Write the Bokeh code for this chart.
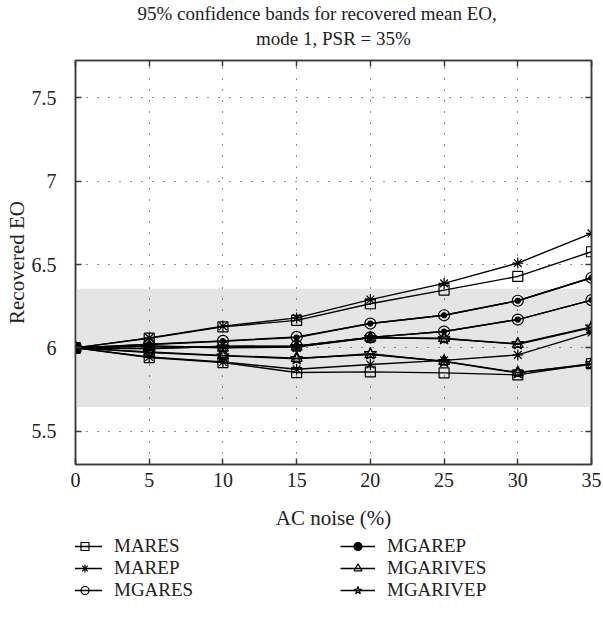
from bokeh.plotting import figure
from bokeh.layouts import column
from bokeh.models import (BoxAnnotation, Legend, LegendItem, LinearAxis,
                          NumeralTickFormatter, CustomJSTickFormatter, Title,
                          Range1d)
from bokeh.embed import file_html
from bokeh.resources import INLINE

# AC noise levels (%)
noise = [0, 5, 10, 15, 20, 25, 30, 35]

# Upper / lower 95% confidence limits of the recovered mean EO
mares_hi = [6.0, 6.058, 6.126, 6.165, 6.265, 6.347, 6.429, 6.577]
mares_lo = [6.0, 5.942, 5.912, 5.852, 5.856, 5.850, 5.838, 5.905]
marep_hi = [6.0, 6.060, 6.130, 6.180, 6.290, 6.387, 6.509, 6.687]
marep_lo = [6.0, 5.945, 5.915, 5.872, 5.900, 5.925, 5.958, 6.092]
mgares_hi = [6.0, 6.022, 6.042, 6.066, 6.146, 6.196, 6.283, 6.421]
mgares_lo = [6.0, 5.995, 6.010, 6.012, 6.063, 6.098, 6.170, 6.287]
mgarep_hi = [6.0, 6.020, 6.040, 6.062, 6.146, 6.196, 6.283, 6.421]
mgarep_lo = [6.0, 5.997, 6.008, 6.010, 6.063, 6.098, 6.170, 6.287]
mgarives_hi = [6.0, 6.010, 6.000, 6.005, 6.060, 6.058, 6.022, 6.122]
mgarives_lo = [6.0, 5.975, 5.955, 5.938, 5.960, 5.920, 5.852, 5.900]
mgarivep_hi = [6.0, 6.012, 6.002, 6.008, 6.062, 6.055, 6.025, 6.125]
mgarivep_lo = [6.0, 5.972, 5.952, 5.935, 5.965, 5.918, 5.850, 5.905]

# Reference band of the true EO
band_lo = 5.645
band_hi = 6.355

x_ticks = [0, 5, 10, 15, 20, 25, 30, 35]
y_ticks = [5.5, 6, 6.5, 7, 7.5]

methods = ["MARES", "MAREP", "MGARES", "MGAREP", "MGARIVES", "MGARIVEP"]
limits = {
    "MARES": (mares_hi, mares_lo),
    "MAREP": (marep_hi, marep_lo),
    "MGARES": (mgares_hi, mgares_lo),
    "MGAREP": (mgarep_hi, mgarep_lo),
    "MGARIVES": (mgarives_hi, mgarives_lo),
    "MGARIVEP": (mgarivep_hi, mgarivep_lo),
}

# marker style per method: (marker, size, filled)
marker_style = {
    "MARES": ("square", 10, False),
    "MAREP": ("asterisk", 11, False),
    "MGARES": ("circle", 11, False),
    "MGAREP": ("circle", 5, True),
    "MGARIVES": ("triangle", 11, False),
    "MGARIVEP": ("star", 13, False),
}

FONT = "Liberation Serif"
INK = "#000000"
FRAME = "#3a3a3a"
TEXT = "#222222"

p = figure(width=603, height=536, x_range=(0, 35), y_range=(5.3, 7.725),
           title=None, output_backend="svg", toolbar_location=None,
           min_border_left=75, min_border_right=12,
           min_border_top=59, min_border_bottom=72)

p.outline_line_color = FRAME
p.outline_line_width = 1.5

band = BoxAnnotation(bottom=band_lo, top=band_hi, fill_color="#e5e5e5",
                     fill_alpha=1.0, line_alpha=0, level="image")
p.add_layout(band)

# dotted grid
for g in (p.xgrid, p.ygrid):
    g.grid_line_color = "#222222"
    g.grid_line_dash = "1 10"
    g.grid_line_width = 1
p.xgrid.ticker = x_ticks
p.ygrid.ticker = y_ticks

def style_axis(ax):
    ax.axis_line_color = FRAME
    ax.axis_line_width = 1.5
    ax.major_tick_line_color = FRAME
    ax.major_tick_line_width = 1.5
    ax.major_tick_in = 6
    ax.major_tick_out = 0
    ax.minor_tick_line_alpha = 0
    ax.major_label_text_font = FONT
    ax.major_label_text_color = TEXT
    ax.major_label_text_font_size = "20px"

p.xaxis.ticker = x_ticks
p.yaxis.ticker = y_ticks
p.yaxis.formatter = NumeralTickFormatter(format="0.[0]")
style_axis(p.xaxis[0])
style_axis(p.yaxis[0])
p.xaxis.major_label_standoff = 8
p.yaxis.major_label_standoff = 19

p.xaxis.axis_label = "AC noise (%)"
p.yaxis.axis_label = "Recovered EO"
for ax in (p.xaxis[0], p.yaxis[0]):
    ax.axis_label_text_font = FONT
    ax.axis_label_text_font_size = "21px"
    ax.axis_label_text_font_style = "normal"
    ax.axis_label_text_color = TEXT
p.xaxis.axis_label_standoff = 16
p.yaxis.axis_label_standoff = 0

# mirrored tick marks on the top and right edges of the box
blank = CustomJSTickFormatter(code="return ''")
top_ax = LinearAxis(ticker=x_ticks, formatter=blank)
right_ax = LinearAxis(ticker=y_ticks, formatter=blank)
for ax in (top_ax, right_ax):
    style_axis(ax)
    ax.major_label_standoff = 0
p.add_layout(top_ax, "above")
p.add_layout(right_ax, "right")

# invisible axis that only keeps a gap between the box and the title
gap_ax = LinearAxis(ticker=x_ticks, formatter=blank)
style_axis(gap_ax)
gap_ax.major_label_standoff = 0
gap_ax.major_tick_in = 0
gap_ax.major_tick_out = 10
gap_ax.major_tick_line_alpha = 0
gap_ax.axis_line_alpha = 0
p.add_layout(gap_ax, "above")

# two-line title: the second line sits nearer the box
p.add_layout(Title(text="mode 1, PSR = 35%", align="center",
                   text_font=FONT, text_font_size="19px",
                   text_font_style="normal", text_color=TEXT,
                   standoff=4), "above")
p.add_layout(Title(text="95% confidence bands for recovered mean EO,",
                   align="left", offset=62,
                   text_font=FONT, text_font_size="19px",
                   text_font_style="normal", text_color=TEXT,
                   standoff=0), "above")

def draw_method(fig, name):
    hi, lo = limits[name]
    marker, size, filled = marker_style[name]
    drawn = []
    for ys in (hi, lo):
        ln = fig.line(noise, ys, line_color=INK, line_width=1.4)
        sc = fig.scatter(noise, ys, marker=marker, size=size,
                         line_color=INK, line_width=1.2,
                         fill_color=INK, fill_alpha=1.0 if filled else 0.0)
        drawn.append([ln, sc])
    return drawn[0]

for name in methods:
    draw_method(p, name)

# legend strip below the chart; its own ranges keep the series out of view
lp = figure(width=603, height=90, x_range=Range1d(100, 101),
            y_range=Range1d(100, 101), title=None,
            output_backend="svg", toolbar_location=None,
            x_axis_location=None, y_axis_location=None,
            min_border=0, outline_line_color=None)
lp.grid.visible = False

key = {name: draw_method(lp, name) for name in methods}
order = [methods[0], methods[3], methods[1], methods[4], methods[2], methods[5]]
items = [LegendItem(label=n, renderers=key[n]) for n in order]

legend = Legend(items=items, orientation="horizontal", ncols=2,
                location=(-8, 25))
legend.label_text_font = FONT
legend.label_text_font_size = "19px"
legend.label_text_color = TEXT
legend.glyph_width = 35
legend.glyph_height = 20
legend.label_standoff = 12
legend.label_width = 226
legend.label_height = 20
legend.spacing = 0
legend.padding = 0
legend.margin = 0
legend.border_line_alpha = 0
legend.background_fill_alpha = 0
lp.add_layout(legend)

page = column(p, lp, spacing=0)
open("out.html", "w").write(file_html(page, INLINE))
